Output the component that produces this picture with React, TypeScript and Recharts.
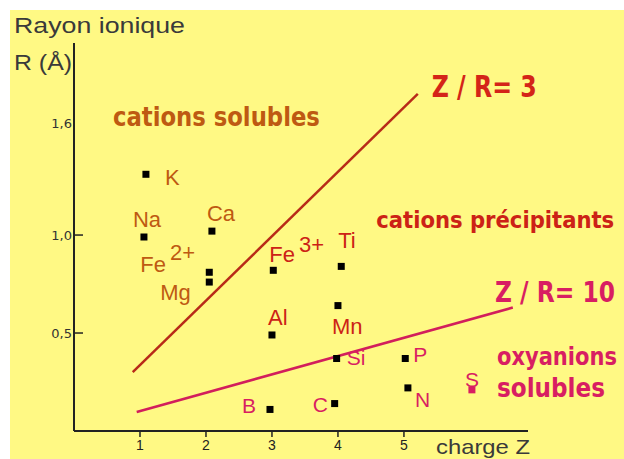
import React from 'react';
import { ScatterChart, Scatter, XAxis, YAxis, ReferenceLine, ReferenceDot } from 'recharts';

// ---- data (charge Z, ionic radius R in Å) ----
const solubleCations = [
  { name: 'K', z: 1.09, r: 1.31, charge: '' },
  { name: 'Na', z: 1.06, r: 0.99, charge: '' },
  { name: 'Ca', z: 2.09, r: 1.02, charge: '' },
  { name: 'Fe', z: 2.05, r: 0.81, charge: '2+' },
  { name: 'Mg', z: 2.05, r: 0.76, charge: '' },
];
const precipitatingCations = [
  { name: 'Fe', z: 3.02, r: 0.82, charge: '3+' },
  { name: 'Ti', z: 4.05, r: 0.84, charge: '' },
  { name: 'Mn', z: 4.0, r: 0.64, charge: '' },
  { name: 'Al', z: 3.0, r: 0.49, charge: '' },
];
const oxyanions = [
  { name: 'Si', z: 3.98, r: 0.37, charge: '' },
  { name: 'P', z: 5.02, r: 0.37, charge: '' },
  { name: 'N', z: 5.06, r: 0.22, charge: '' },
  { name: 'S', z: 6.03, r: 0.21, charge: '' },
  { name: 'C', z: 3.95, r: 0.14, charge: '' },
  { name: 'B', z: 2.97, r: 0.11, charge: '' },
];
const zr3Line = [{ z: 0.89, r: 0.3 }, { z: 5.21, r: 1.72 }];
const zr10Line = [{ z: 0.95, r: 0.097 }, { z: 6.65, r: 0.63 }];

const xTicks = [1, 2, 3, 4, 5];
const yTicks = [0.5, 1.0, 1.57];
const yTickLabels = ['0,5', '1,0', '1,6'];

const regionLabels = [
  { key: 'cs', text: 'cations solubles', z: 0.59, r: 1.556 },
  { key: 'zr3', text: 'Z / R= 3', z: 5.42, r: 1.704 },
  { key: 'cp', text: 'cations précipitants', z: 4.58, r: 1.036 },
  { key: 'zr10', text: 'Z / R= 10', z: 6.38, r: 0.658 },
  { key: 'ox', text: 'oxyanions', z: 6.41, r: 0.337 },
  { key: 'sol', text: 'solubles', z: 6.41, r: 0.173 },
];

// ---- styles ----
const YELLOW = '#FFF984';
const BROWN = '#BE5A12';
const RED = '#CC2216';
const PINK = '#D81E62';
const CONDENSED = "'Liberation Sans Narrow', 'DejaVu Sans Condensed', 'Liberation Sans', sans-serif";
const SANS = "'Liberation Sans', Arial, sans-serif";

const regionStyle: Record<string, { color: string; size: number; width: number }> = {
  cs: { color: BROWN, size: 27, width: 207 },
  zr3: { color: '#D42418', size: 30, width: 105 },
  cp: { color: RED, size: 23, width: 238 },
  zr10: { color: PINK, size: 28, width: 120 },
  ox: { color: PINK, size: 25, width: 120 },
  sol: { color: PINK, size: 26, width: 108 },
};

const labelOffset: Record<string, [number, number]> = {
  K: [19, 11], Na: [-11, -10], Ca: [-5, -10], 'Fe2+': [-69, 0], Mg: [-49, 18],
  'Fe3+': [-4, -8], Ti: [-3, -18], Mn: [-6, 28], Al: [-4, -10],
  Si: [10, 7], P: [8, 4], N: [7, 19], S: [-7, -3], C: [-22, 8], B: [-28, 4],
};

const makeShape = (color: string, fontSize: number) => (props: any) => {
  const { cx, cy, payload } = props;
  const key = payload.name + payload.charge;
  const [dx, dy] = labelOffset[key] || [8, 0];
  const marker = payload.name === 'S' ? PINK : '#000';
  return (
    <g>
      <rect x={cx - 3.5} y={cy - 3.5} width={7} height={7} fill={marker} />
      <text x={cx + dx} y={cy + dy} fill={color} fontSize={fontSize} fontFamily={SANS}>
        {payload.name}
        {payload.charge ? (
          <tspan dx={4} dy={payload.charge === '2+' ? -12 : -10}>{payload.charge}</tspan>
        ) : null}
      </text>
    </g>
  );
};

const YTick = (props: any) => {
  const { x, y, index } = props;
  return (
    <g>
      <text x={x - 2} y={y + 5} textAnchor="end" fontSize={13} fill="#333" fontFamily="'DejaVu Sans', sans-serif">
        {yTickLabels[index]}
      </text>
      {index < 2 ? <line x1={x + 1} x2={x + 9} y1={y} y2={y} stroke="#222" strokeWidth={1.5} /> : null}
    </g>
  );
};

const XTick = (props: any) => {
  const { x, y, payload } = props;
  return (
    <text x={x} y={y + 11} textAnchor="middle" fontSize={14} fill="#222" fontFamily={SANS}>
      {payload.value}
    </text>
  );
};

export default function App() {
  return (
    <div style={{ position: 'absolute', left: 0, top: 0, width: 624, height: 459, background: '#fff', overflow: 'hidden' }}>
      <div style={{ position: 'absolute', left: 10, top: 10, width: 614, height: 449, background: YELLOW }} />
      <div style={{ position: 'absolute', left: 0, top: 0 }}>
        <ScatterChart width={624} height={459} margin={{ top: 43, right: 96, bottom: 0, left: 0 }}>
          <XAxis
            type="number"
            dataKey="z"
            domain={[0, 6.88]}
            ticks={xTicks}
            height={28}
            axisLine={{ stroke: '#222', strokeWidth: 2 }}
            tickLine={{ stroke: '#222', strokeWidth: 1.5 }}
            tickSize={6}
            tick={<XTick />}
            interval={0}
          />
          <YAxis
            type="number"
            dataKey="r"
            domain={[0, 1.98]}
            ticks={yTicks}
            width={74}
            axisLine={{ stroke: '#222', strokeWidth: 2 }}
            tickLine={false}
            tickSize={0}
            tickMargin={0}
            tick={<YTick />}
            interval={0}
          />
          <ReferenceLine
            segment={[{ x: zr3Line[0].z, y: zr3Line[0].r }, { x: zr3Line[1].z, y: zr3Line[1].r }]}
            stroke="#B82A18"
            strokeWidth={2.5}
            ifOverflow="visible"
          />
          <ReferenceLine
            segment={[{ x: zr10Line[0].z, y: zr10Line[0].r }, { x: zr10Line[1].z, y: zr10Line[1].r }]}
            stroke="#D21E5C"
            strokeWidth={2.5}
            ifOverflow="visible"
          />
          <Scatter data={solubleCations} isAnimationActive={false} shape={makeShape(BROWN, 22)} />
          <Scatter data={precipitatingCations} isAnimationActive={false} shape={makeShape(RED, 22)} />
          <Scatter data={oxyanions} isAnimationActive={false} shape={makeShape(PINK, 21)} />
          {regionLabels.map((l) => {
            const st = regionStyle[l.key];
            return (
              <ReferenceDot
                key={l.key}
                x={l.z}
                y={l.r}
                r={0}
                ifOverflow="visible"
                shape={(p: any) => (
                  <text
                    x={p.cx}
                    y={p.cy}
                    fill={st.color}
                    fontSize={st.size}
                    fontWeight="bold"
                    fontFamily={CONDENSED}
                    textLength={st.width}
                    lengthAdjust="spacingAndGlyphs"
                  >
                    {l.text}
                  </text>
                )}
              />
            );
          })}
        </ScatterChart>
      </div>
      <svg width={624} height={459} style={{ position: 'absolute', left: 0, top: 0, pointerEvents: 'none' }}>
        <text x={14} y={33} fontSize={22} fill="#3a3a3a" fontFamily={SANS} textLength={171} lengthAdjust="spacingAndGlyphs">
          Rayon ionique
        </text>
        <text x={14} y={70} fontSize={22} fill="#3a3a3a" fontFamily={SANS} textLength={58} lengthAdjust="spacingAndGlyphs">
          R (Å)
        </text>
        <text x={436} y={454} fontSize={21} fill="#3a3a3a" fontFamily={SANS} textLength={94} lengthAdjust="spacingAndGlyphs">
          charge Z
        </text>
      </svg>
    </div>
  );
}
